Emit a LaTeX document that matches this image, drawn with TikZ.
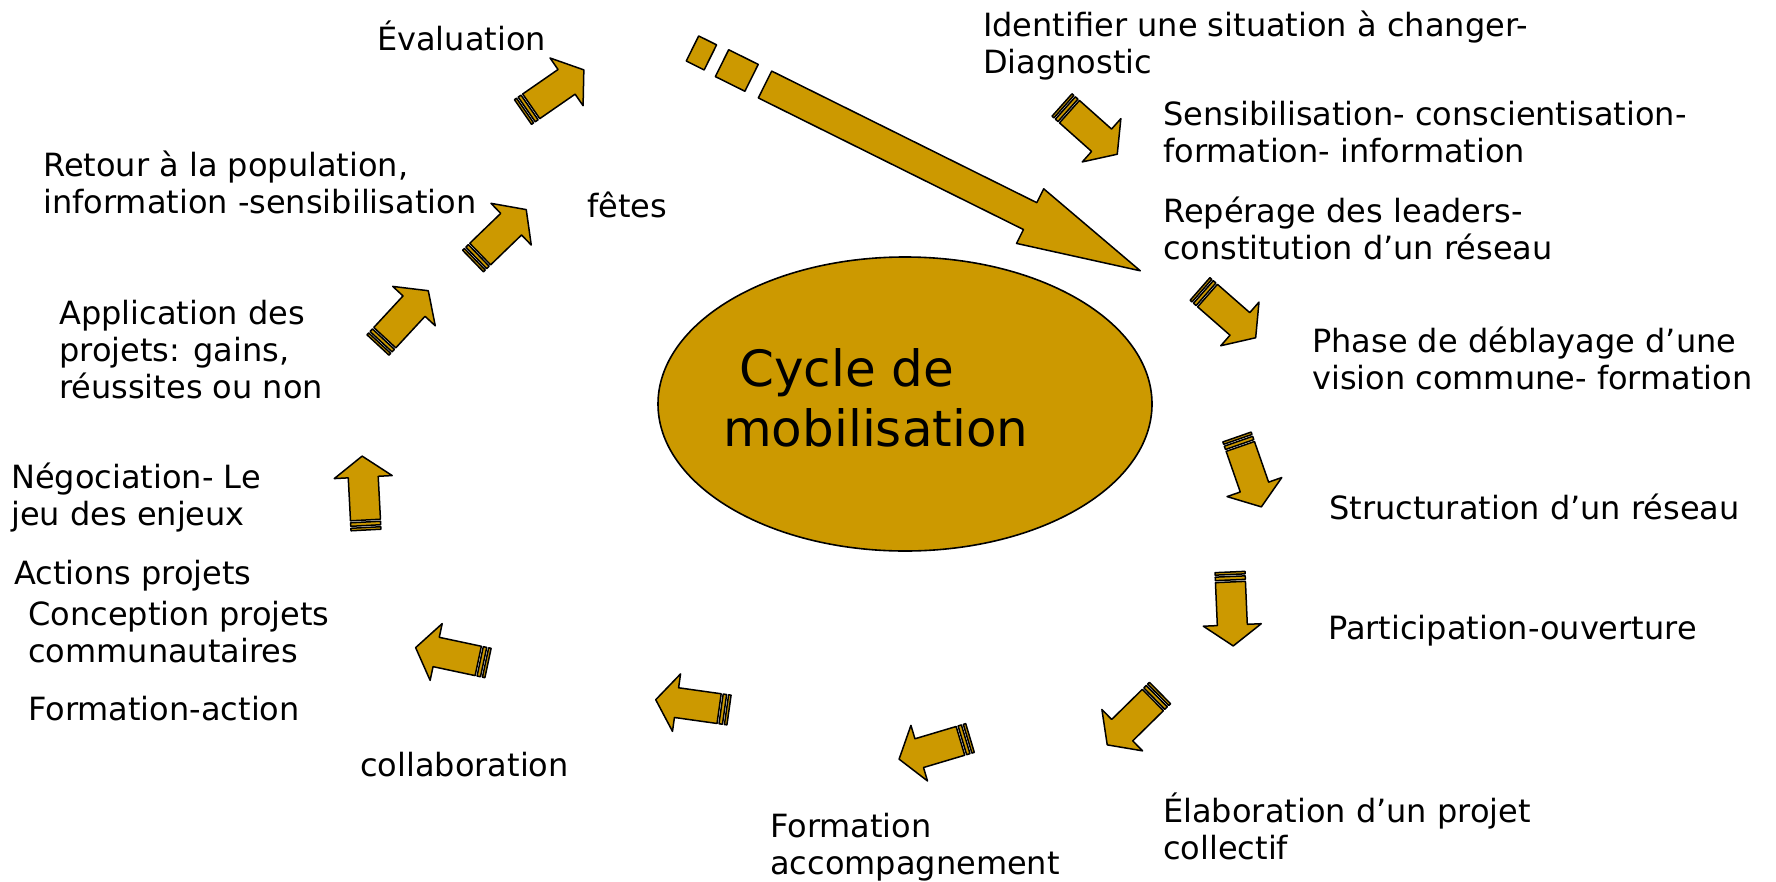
\documentclass[tikz,border=0pt]{standalone}
\usepackage{fontspec}
\setmainfont{DejaVu Sans}
\usetikzlibrary{shapes.geometric}

\definecolor{gold}{RGB}{204,153,0}

% striped block arrow: tail point, angle
\newcommand{\cyclearrow}[2]{%
  \begin{scope}[shift={#1},rotate=#2]
    \filldraw[arrowpart] (0,-15) rectangle (2.5,15);
    \filldraw[arrowpart] (4.5,-15) rectangle (8,15);
    \filldraw[arrowpart] (10,-15) -- (53,-15) -- (53,-29) -- (74,0)
      -- (53,29) -- (53,15) -- (10,15) -- cycle;
  \end{scope}}

\begin{document}
\begin{tikzpicture}[x=1pt,y=-1pt,
    arrowpart/.style={fill=gold,draw=black,line width=1.5pt,line join=round},
    label/.style={anchor=base west,inner sep=0pt,align=left,
      font=\fontsize{32}{37}\selectfont}]
\useasboundingbox (0,0) rectangle (1776,881);

\node[ellipse,draw,fill=gold,line width=1.6pt,minimum width=494pt,
  minimum height=294pt] (cycle) at (905,404) {};
\node[anchor=base west,inner sep=0pt,align=left,
  font=\fontsize{50}{60}\selectfont] (title) at (723,446)
  {\hspace*{16pt}Cycle de\\mobilisation};

% big arrow
\begin{scope}[shift={(765,84.5)},rotate=-26.4]
  \filldraw[arrowpart] (-81,-14) rectangle (-61,14);
  \filldraw[arrowpart] (-48,-15) rectangle (-15,15);
  \filldraw[arrowpart] (0,-15) -- (296,-15) -- (296,-30.5) -- (419,0)
    -- (296,30.5) -- (296,15) -- (0,15) -- cycle;
\end{scope}

% small arrows
\cyclearrow{(1062,105)}{-41.7}
\cyclearrow{(1200,289)}{-41.2}
\cyclearrow{(1237,437)}{-70.8}
\cyclearrow{(1230,572)}{-87.5}
\cyclearrow{(1160,693)}{224.5}
\cyclearrow{(970,738)}{196.6}
\cyclearrow{(729,710)}{172}
\cyclearrow{(488,663)}{168}
\cyclearrow{(366,530)}{93}
\cyclearrow{(378,345)}{47.2}
\cyclearrow{(473,261)}{44}
\cyclearrow{(523,112)}{34.7}

\node[label] (eval) at (377,50) {Évaluation};
\node[label] (ident) at (983,73) {Identifier une situation à changer-\\Diagnostic};
\node[label] (sensib) at (1163,162) {Sensibilisation- conscientisation-\\formation- information};
\node[label] (reper) at (1163,259) {Repérage des leaders-\\constitution d’un réseau};
\node[label] (phase) at (1312,389) {Phase de déblayage d’une\\vision commune- formation};
\node[label] (struct) at (1329,519) {Structuration d’un réseau};
\node[label] (partic) at (1328,639) {Participation-ouverture};
\node[label] (elab) at (1163,859) {Élaboration d’un projet\\collectif};
\node[label] (accomp) at (770,874) {Formation\\accompagnement};
\node[label] (collab) at (360,776) {collaboration};
\node[label] (formact) at (28,720) {Formation-action};
\node[label] (concep) at (28,662) {Conception projets\\communautaires};
\node[label] (actions) at (14,584) {Actions projets};
\node[label] (nego) at (11,525) {Négociation- Le\\jeu des enjeux};
\node[label] (appli) at (59,398) {Application des\\projets: gains,\\réussites ou non};
\node[label] (retour) at (43,213) {Retour à la population,\\information -sensibilisation};
\node[label] (fetes) at (587,217) {fêtes};
\end{tikzpicture}
\end{document}
